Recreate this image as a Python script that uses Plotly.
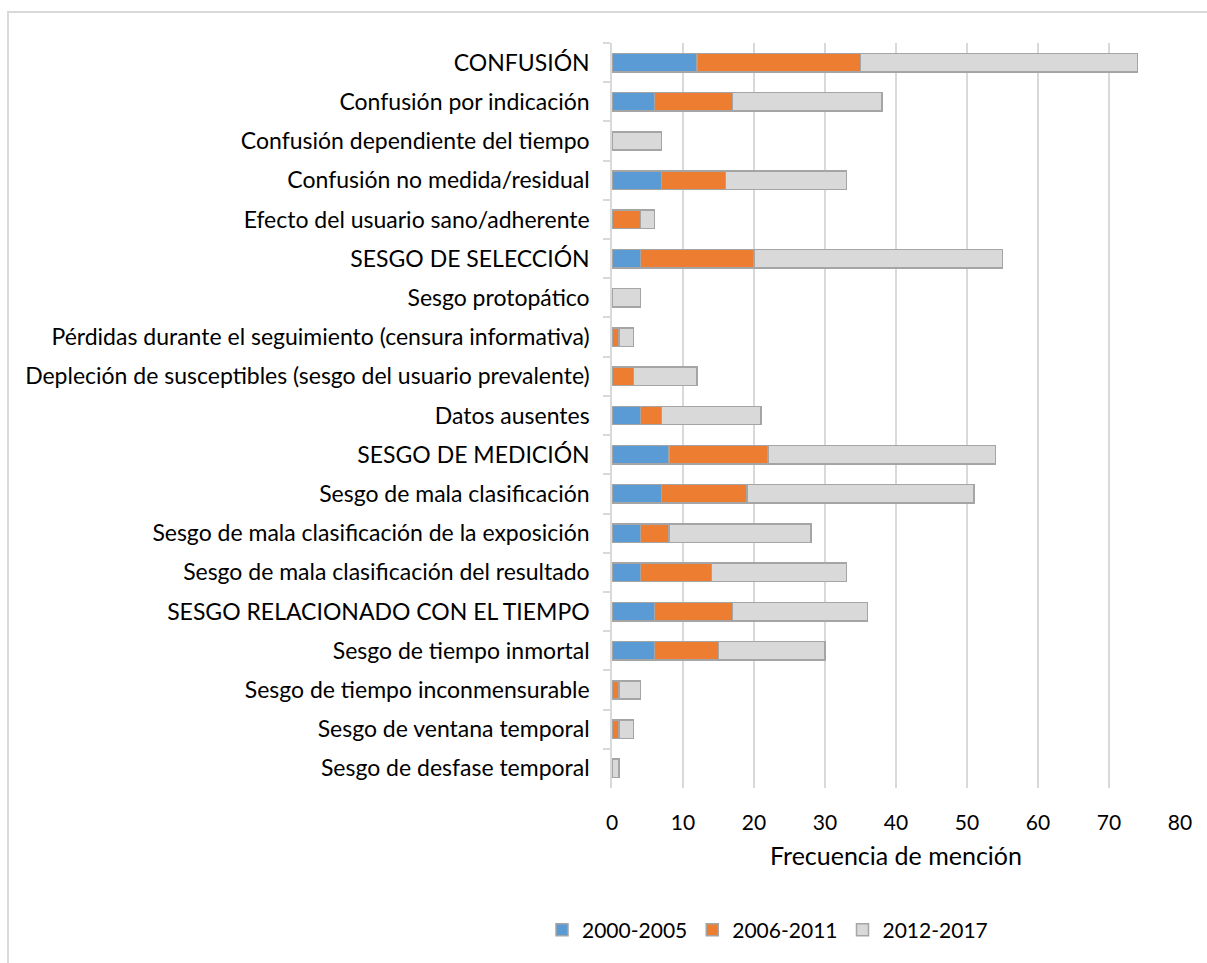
import plotly.graph_objects as go

# Categories (top to bottom) and counts per period
categories = [
    "CONFUSIÓN",
    "Confusión por indicación",
    "Confusión dependiente del tiempo",
    "Confusión no medida/residual",
    "Efecto del usuario sano/adherente",
    "SESGO DE SELECCIÓN",
    "Sesgo protopático",
    "Pérdidas durante el seguimiento (censura informativa)",
    "Depleción de susceptibles (sesgo del usuario prevalente)",
    "Datos ausentes",
    "SESGO DE MEDICIÓN",
    "Sesgo de mala clasificación",
    "Sesgo de mala clasificación de la exposición",
    "Sesgo de mala clasificación del resultado",
    "SESGO RELACIONADO CON EL TIEMPO",
    "Sesgo de tiempo inmortal",
    "Sesgo de tiempo inconmensurable",
    "Sesgo de ventana temporal",
    "Sesgo de desfase temporal",
]
p2000_2005 = [12, 6, 0, 7, 0, 4, 0, 0, 0, 4, 8, 7, 4, 4, 6, 6, 0, 0, 0]
p2006_2011 = [23, 11, 0, 9, 4, 16, 0, 1, 3, 3, 14, 12, 4, 10, 11, 9, 1, 1, 0]
p2012_2017 = [39, 21, 7, 17, 2, 35, 4, 2, 9, 14, 32, 32, 20, 19, 19, 15, 3, 2, 1]

series = [
    ("2000-2005", p2000_2005, "#5B9BD5"),
    ("2006-2011", p2006_2011, "#ED7D31"),
    ("2012-2017", p2012_2017, "#D9D9D9"),
]

FONT = "Lato"

fig = go.Figure()
for name, vals, color in series:
    fig.add_trace(go.Bar(
        y=categories, x=vals, name=name, orientation="h",
        marker=dict(color=color, line=dict(color="#A5A5A5", width=1.5)),
    ))

# plot area geometry in pixels
L, R, T, B = 612, 1180, 43, 788
W, H = R - L, B - T


def px(x):
    return (x - L) / W


def py(y):
    return (B - y) / H


fig.update_layout(
    width=1207, height=963,
    margin=dict(l=L, r=1207 - R, t=T, b=963 - B),
    barmode="stack", bargap=0.53,
    plot_bgcolor="white", paper_bgcolor="white",
    font=dict(family=FONT, size=23, color="#000000"),
    xaxis=dict(
        range=[0, 80], dtick=10, showgrid=True, gridcolor="#D9D9D9", gridwidth=1.5,
        zeroline=False, showline=False, ticks="",
        tickfont=dict(size=21), ticklabelstandoff=20,
        title=dict(text="Frecuencia de mención", font=dict(size=25), standoff=14),
    ),
    yaxis=dict(
        categoryorder="array", categoryarray=categories, autorange="reversed",
        showline=True, linecolor="#D9D9D9", linewidth=1.5,
        ticks="outside", tickson="boundaries", ticklen=7, tickcolor="#D9D9D9",
        tickwidth=1.5, showgrid=False, ticklabelstandoff=16,
    ),
    legend=dict(
        orientation="h", traceorder="normal", x=px(542), y=py(930), yanchor="middle",
        xanchor="left", font=dict(size=21), itemwidth=30,
    ),
    shapes=[dict(
        type="rect", xref="paper", yref="paper",
        x0=px(8), x1=px(1230), y0=py(990), y1=py(12),
        line=dict(color="#D9D9D9", width=2), fillcolor="rgba(0,0,0,0)", layer="below",
    )],
)

fig.write_html("out.html")
